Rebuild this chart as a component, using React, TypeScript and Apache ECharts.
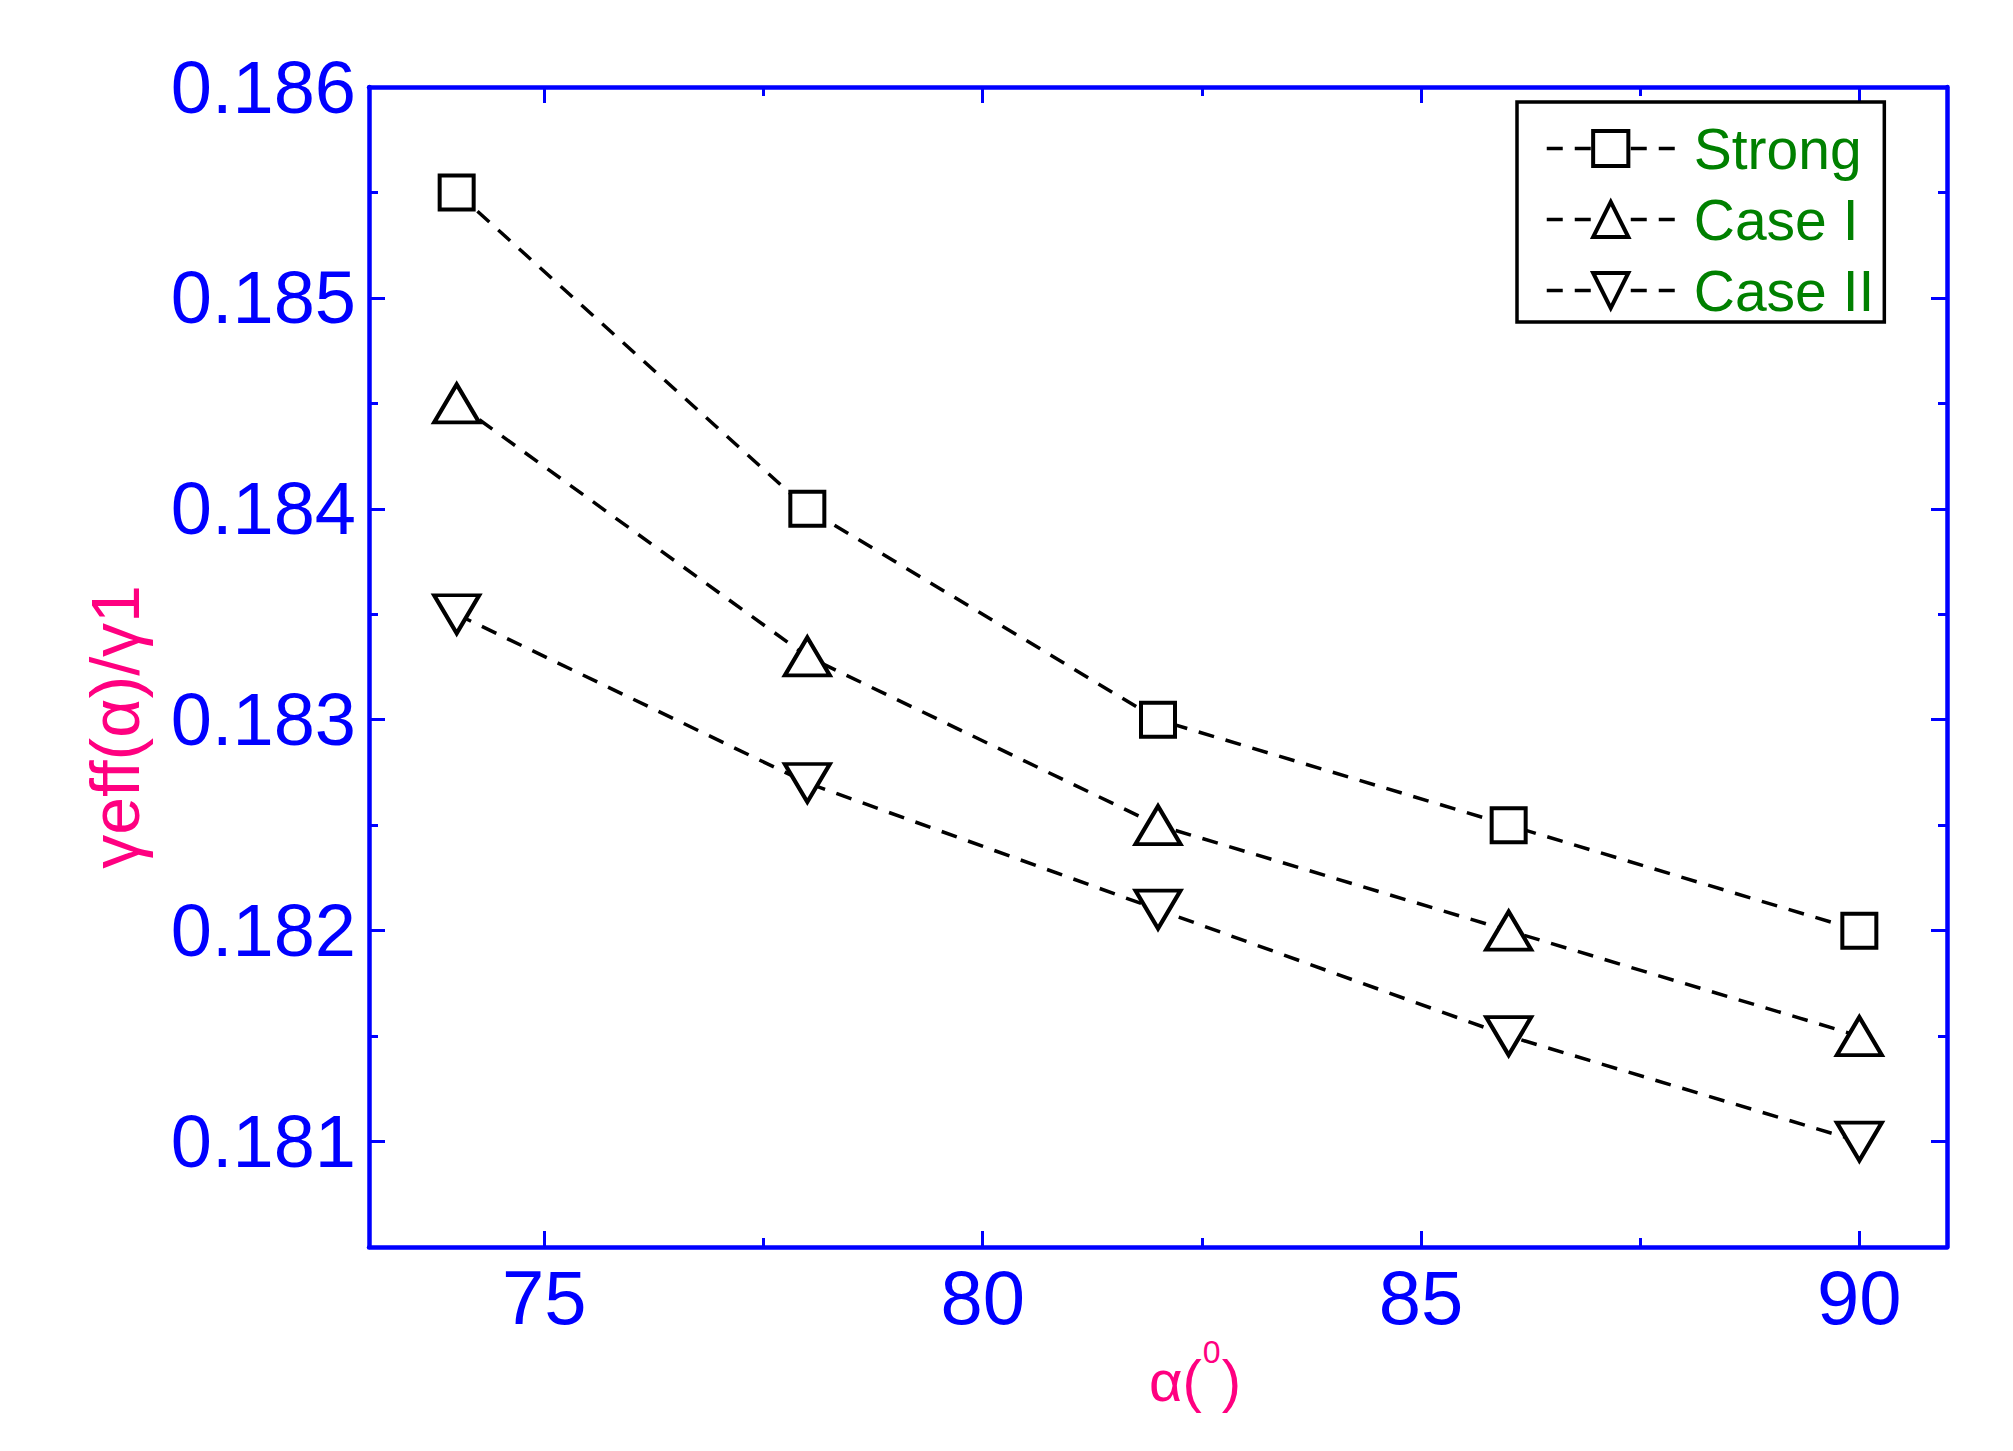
import React, { useEffect, useRef } from 'react';
import * as echarts from 'echarts';

const alphaDeg = [74, 78, 82, 86, 90];
const strongVals = [0.1855, 0.184, 0.183, 0.1825, 0.182];
const caseIVals = [0.1845, 0.1833, 0.1825, 0.182, 0.1815];
const caseIIVals = [0.1835, 0.1827, 0.1821, 0.1815, 0.181];
const seriesNames = ['Strong', 'Case I', 'Case II'];
const yMajor = [0.181, 0.182, 0.183, 0.184, 0.185, 0.186];
const yMinor = [0.1805, 0.1815, 0.1825, 0.1835, 0.1845, 0.1855];
const xMajor = [75, 80, 85, 90];
const xMinor = [77.5, 82.5, 87.5];

const BLUE = '#0000FF';
const PINK = '#FF0080';
const GREEN = '#008000';
const FONT = 'Liberation Sans, Arial, sans-serif';

export default function App() {
  const ref = useRef<HTMLDivElement>(null);
  useEffect(() => {
    document.body.style.margin = '0';
    if (!ref.current) return;
    const chart = echarts.init(ref.current, null, { renderer: 'svg' });
    const X_MIN = 73, X_MAX = 91, Y_MIN = 0.1805, Y_MAX = 0.186;
    const tickStyle = { color: BLUE, width: 3 };
    const mkX = (pos: 'bottom' | 'top', major: boolean, line: boolean, labels: boolean) => ({
      type: 'value', position: pos, min: X_MIN, max: X_MAX,
      axisLine: { show: line, onZero: false, lineStyle: { color: BLUE, width: 4.5 } },
      axisTick: { show: true, inside: true, length: major ? 16 : 9, customValues: major ? xMajor : xMinor, lineStyle: tickStyle },
      axisLabel: labels
        ? { show: true, customValues: xMajor, fontSize: 76, color: BLUE, fontFamily: FONT, margin: 12 }
        : { show: false },
      splitLine: { show: false },
    });
    const mkY = (pos: 'left' | 'right', major: boolean, line: boolean, labels: boolean) => ({
      type: 'value', position: pos, min: Y_MIN, max: Y_MAX,
      axisLine: { show: line, onZero: false, lineStyle: { color: BLUE, width: 4.5 } },
      axisTick: { show: true, inside: true, length: major ? 16 : 9, customValues: major ? yMajor : yMinor, lineStyle: tickStyle },
      axisLabel: labels
        ? { show: true, customValues: yMajor, fontSize: 74, color: BLUE, fontFamily: FONT, margin: 13, formatter: (v: number) => v.toFixed(3) }
        : { show: false },
      splitLine: { show: false },
    });
    const lineStyle = { color: '#000', width: 3.5, type: [16, 12] };
    const itemStyle = { color: '#fff', borderColor: '#000', borderWidth: 4, opacity: 1 };
    const mkData = (vals: number[]) => alphaDeg.map((a, i) => [a, vals[i]]);
    chart.setOption({
      animation: false,
      backgroundColor: '#fff',
      grid: { left: 369, top: 87, right: 66, bottom: 204, containLabel: false },
      xAxis: [mkX('bottom', false, true, true), mkX('bottom', true, false, false), mkX('top', false, true, false), mkX('top', true, false, false)],
      yAxis: [mkY('left', false, true, true), mkY('left', true, false, false), mkY('right', false, true, false), mkY('right', true, false, false)],
      legend: {
        show: true,
        orient: 'vertical',
        left: 1517,
        top: 102,
        itemWidth: 128,
        itemHeight: 44,
        itemGap: 14,
        padding: [18, 10, 3, 28],
        borderColor: '#000',
        borderWidth: 3.5,
        backgroundColor: '#fff',
        itemStyle: { color: '#fff', borderColor: '#000', borderWidth: 4 },
        lineStyle: { color: '#000', width: 3.5, type: [16, 12] },
        textStyle: { color: GREEN, fontSize: 57, fontFamily: FONT, lineHeight: 56, padding: [0, 0, 0, 14] },
        data: seriesNames,
      },
      series: [
        { name: seriesNames[0], type: 'line', data: mkData(strongVals), symbol: 'rect', symbolSize: 34, lineStyle, itemStyle, z: 3 },
        { name: seriesNames[1], type: 'line', data: mkData(caseIVals), symbol: 'triangle', symbolSize: [45, 38], lineStyle, itemStyle, z: 3 },
        { name: seriesNames[2], type: 'line', data: mkData(caseIIVals), symbol: 'triangle', symbolSize: [45, 38], symbolRotate: 180, lineStyle, itemStyle, z: 3 },
      ],
      graphic: [
        {
          type: 'text', x: 115, y: 727, rotation: Math.PI / 2,
          style: { text: 'γeff(α)/γ1', fontSize: 68, fontFamily: FONT, fill: PINK, align: 'center', verticalAlign: 'middle' },
        },
        {
          type: 'text', x: 1195, y: 1380,
          style: {
            text: '{a|α(}{s|0}{a|)}', align: 'center', verticalAlign: 'middle', fontFamily: FONT, fill: PINK,
            rich: {
              a: { fontSize: 58, fontFamily: FONT, fill: PINK, color: PINK },
              s: { fontSize: 32, fontFamily: FONT, fill: PINK, color: PINK, padding: [0, 1, 56, 1] },
            },
          },
        },
      ],
    });
    return () => chart.dispose();
  }, []);
  return <div ref={ref} style={{ width: 2013, height: 1451 }} />;
}
